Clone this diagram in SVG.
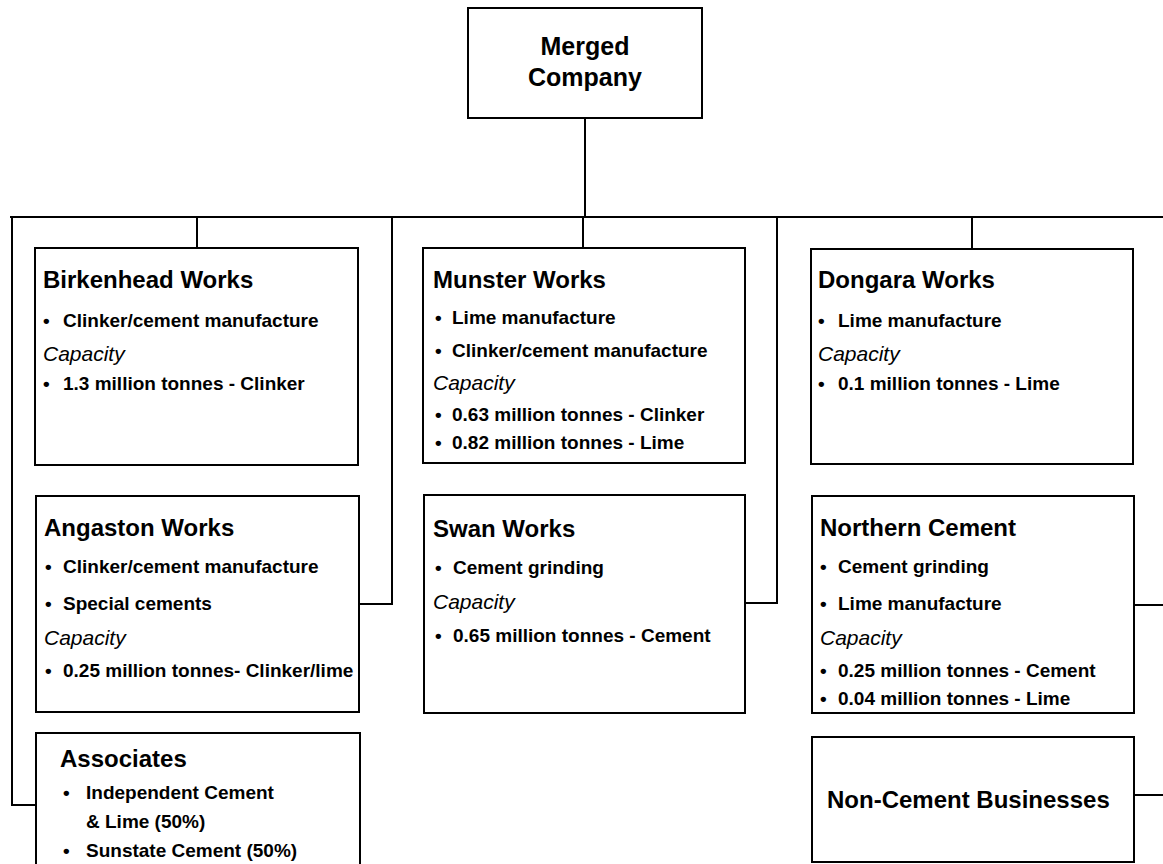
<svg xmlns="http://www.w3.org/2000/svg" width="1163" height="864" viewBox="0 0 1163 864">
<style>
.box{fill:#fff;stroke:#000;stroke-width:2}
.ln{fill:none;stroke:#000;stroke-width:2}
text{font-family:"Liberation Sans",Arial,sans-serif;fill:#000}
.t{font-size:24px;font-weight:bold}
.b{font-size:19px;font-weight:bold}
.c{font-size:21px;font-style:italic}
.m{font-size:25px;font-weight:bold}
</style>
<rect width="1163" height="864" fill="#fff"/>
<g id="connectors">
<path class="ln" d="M585 118V217M10 217H1163"/>
<path class="ln" d="M197 217V248M583 217V248M972 217V249"/>
<path class="ln" d="M12 217V805H36"/>
<path class="ln" d="M392 217V604H359"/>
<path class="ln" d="M777 217V603H745"/>
<path class="ln" d="M1134 605H1163M1134 795H1163"/>
</g>
<g id="merged">
<rect class="box" x="468" y="8" width="234" height="110"/>
<text class="m" x="585" y="55" text-anchor="middle">Merged</text>
<text class="m" x="585" y="86" text-anchor="middle">Company</text>
</g>
<g id="birkenhead">
<rect class="box" x="35" y="248" width="323" height="217"/>
<text class="t" x="43" y="288">Birkenhead Works</text>
<text class="b" x="43" y="327">•</text><text class="b" x="63" y="327">Clinker/cement manufacture</text>
<text class="c" x="43" y="361">Capacity</text>
<text class="b" x="43" y="390">•</text><text class="b" x="63" y="390">1.3 million tonnes - Clinker</text>
</g>
<g id="munster">
<rect class="box" x="423" y="248" width="322" height="215"/>
<text class="t" x="433" y="288">Munster Works</text>
<text class="b" x="435" y="324">•</text><text class="b" x="452" y="324">Lime manufacture</text>
<text class="b" x="435" y="357">•</text><text class="b" x="452" y="357">Clinker/cement manufacture</text>
<text class="c" x="433" y="390">Capacity</text>
<text class="b" x="435" y="421">•</text><text class="b" x="452" y="421">0.63 million tonnes - Clinker</text>
<text class="b" x="435" y="449">•</text><text class="b" x="452" y="449">0.82 million tonnes - Lime</text>
</g>
<g id="dongara">
<rect class="box" x="811" y="249" width="322" height="215"/>
<text class="t" x="818" y="288">Dongara Works</text>
<text class="b" x="818" y="327">•</text><text class="b" x="838" y="327">Lime manufacture</text>
<text class="c" x="818" y="361">Capacity</text>
<text class="b" x="818" y="390">•</text><text class="b" x="838" y="390">0.1 million tonnes - Lime</text>
</g>
<g id="angaston">
<rect class="box" x="36" y="496" width="323" height="216"/>
<text class="t" x="44" y="536">Angaston Works</text>
<text class="b" x="45" y="573">•</text><text class="b" x="63" y="573">Clinker/cement manufacture</text>
<text class="b" x="45" y="610">•</text><text class="b" x="63" y="610">Special cements</text>
<text class="c" x="44" y="645">Capacity</text>
<text class="b" x="45" y="677">•</text><text class="b" x="63" y="677">0.25 million tonnes- Clinker/lime</text>
</g>
<g id="swan">
<rect class="box" x="424" y="495" width="321" height="218"/>
<text class="t" x="433" y="537">Swan Works</text>
<text class="b" x="435" y="574">•</text><text class="b" x="453" y="574">Cement grinding</text>
<text class="c" x="433" y="609">Capacity</text>
<text class="b" x="435" y="642">•</text><text class="b" x="453" y="642">0.65 million tonnes - Cement</text>
</g>
<g id="northern">
<rect class="box" x="812" y="496" width="322" height="217"/>
<text class="t" x="820" y="536">Northern Cement</text>
<text class="b" x="820" y="573">•</text><text class="b" x="838" y="573">Cement grinding</text>
<text class="b" x="820" y="610">•</text><text class="b" x="838" y="610">Lime manufacture</text>
<text class="c" x="820" y="645">Capacity</text>
<text class="b" x="820" y="677">•</text><text class="b" x="838" y="677">0.25 million tonnes - Cement</text>
<text class="b" x="820" y="705">•</text><text class="b" x="838" y="705">0.04 million tonnes - Lime</text>
</g>
<g id="associates">
<rect class="box" x="36" y="733" width="324" height="150"/>
<text class="t" x="60" y="767">Associates</text>
<text class="b" x="63" y="799">•</text><text class="b" x="86" y="799">Independent Cement</text>
<text class="b" x="86" y="828">&amp; Lime (50%)</text>
<text class="b" x="63" y="857">•</text><text class="b" x="86" y="857">Sunstate Cement (50%)</text>
</g>
<g id="noncement">
<rect class="box" x="812" y="737" width="322" height="125"/>
<text class="t" x="827" y="808">Non-Cement Businesses</text>
</g>
</svg>
